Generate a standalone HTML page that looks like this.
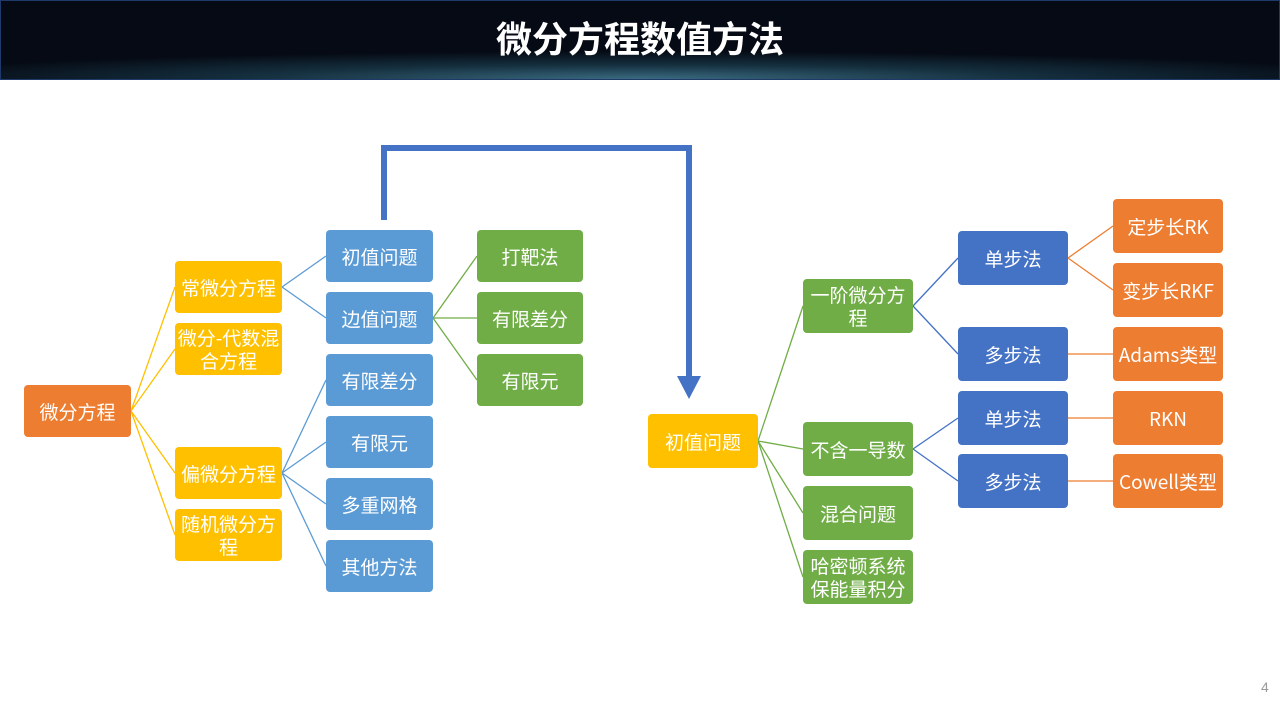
<!DOCTYPE html>
<html><head><meta charset="utf-8"><style>
body{margin:0;width:1280px;height:720px;background:#fff;position:relative;overflow:hidden;font-family:"Liberation Sans","Noto Sans CJK SC",sans-serif}
.hd{position:absolute;left:0;top:0;width:1278px;height:78px;border:1px solid #1f3a6a;background:radial-gradient(ellipse 75% 45% at 50% 100%,#3a6a80 0%,#15303f 40%,#050a14 80%);}
.hd span{position:absolute;left:0;right:0;top:10px;text-align:center;color:#fff;font-size:36px;font-weight:bold;font-family:"Noto Sans CJK SC",sans-serif}
.b{position:absolute;border-radius:4px;color:#fff;font-size:19px;display:flex;align-items:center;justify-content:center;text-align:center;line-height:23px;font-family:"Noto Sans CJK SC",sans-serif}
.o{background:#ED7D31}.y{background:#FFC000}.l{background:#5B9BD5}.g{background:#70AD47}.d{background:#4472C4}
</style></head><body>
<div class="hd"><span>微分方程数值方法</span></div>
<svg width="1280" height="720" style="position:absolute;left:0;top:0">
<g stroke="#FFC000" stroke-width="1.3" fill="none">
<path d="M131 411L175 287M131 411L175 349M131 411L175 473M131 411L175 535"/></g>
<g stroke="#5B9BD5" stroke-width="1.3" fill="none">
<path d="M282 287L326 256M282 287L326 318M282 473L326 380M282 473L326 442M282 473L326 504M282 473L326 566"/></g>
<g stroke="#70AD47" stroke-width="1.3" fill="none">
<path d="M433 318L477 256M433 318L477 318M433 318L477 380"/>
<path d="M758 441L803 306M758 441L803 449M758 441L803 513M758 441L803 577"/></g>
<g stroke="#4472C4" stroke-width="1.3" fill="none">
<path d="M913 306L958 258M913 306L958 354M913 449L958 418M913 449L958 481"/></g>
<g stroke="#ED7D31" stroke-width="1.3" fill="none">
<path d="M1068 258L1113 226M1068 258L1113 290M1068 354L1113 354M1068 418L1113 418M1068 481L1113 481"/></g>
<path d="M384 220V148H689V380" stroke="#4472C4" stroke-width="6" fill="none"/>
<path d="M677 376H701L689 399Z" fill="#4472C4"/>
</svg>
<div class="b o" style="left:24px;top:385px;width:107px;height:52px">微分方程</div>
<div class="b y" style="left:175px;top:261px;width:107px;height:52px">常微分方程</div>
<div class="b y" style="left:175px;top:323px;width:107px;height:52px">微分-代数混<br>合方程</div>
<div class="b y" style="left:175px;top:447px;width:107px;height:52px">偏微分方程</div>
<div class="b y" style="left:175px;top:509px;width:107px;height:52px">随机微分方<br>程</div>
<div class="b l" style="left:326px;top:230px;width:107px;height:52px">初值问题</div>
<div class="b l" style="left:326px;top:292px;width:107px;height:52px">边值问题</div>
<div class="b l" style="left:326px;top:354px;width:107px;height:52px">有限差分</div>
<div class="b l" style="left:326px;top:416px;width:107px;height:52px">有限元</div>
<div class="b l" style="left:326px;top:478px;width:107px;height:52px">多重网格</div>
<div class="b l" style="left:326px;top:540px;width:107px;height:52px">其他方法</div>
<div class="b g" style="left:477px;top:230px;width:106px;height:52px">打靶法</div>
<div class="b g" style="left:477px;top:292px;width:106px;height:52px">有限差分</div>
<div class="b g" style="left:477px;top:354px;width:106px;height:52px">有限元</div>
<div class="b y" style="left:648px;top:414px;width:110px;height:54px">初值问题</div>
<div class="b g" style="left:803px;top:279px;width:110px;height:54px">一阶微分方<br>程</div>
<div class="b g" style="left:803px;top:422px;width:110px;height:54px">不含一导数</div>
<div class="b g" style="left:803px;top:486px;width:110px;height:54px">混合问题</div>
<div class="b g" style="left:803px;top:550px;width:110px;height:54px">哈密顿系统<br>保能量积分</div>
<div class="b d" style="left:958px;top:231px;width:110px;height:54px">单步法</div>
<div class="b d" style="left:958px;top:327px;width:110px;height:54px">多步法</div>
<div class="b d" style="left:958px;top:391px;width:110px;height:54px">单步法</div>
<div class="b d" style="left:958px;top:454px;width:110px;height:54px">多步法</div>
<div class="b o" style="left:1113px;top:199px;width:110px;height:54px">定步长RK</div>
<div class="b o" style="left:1113px;top:263px;width:110px;height:54px">变步长RKF</div>
<div class="b o" style="left:1113px;top:327px;width:110px;height:54px">Adams类型</div>
<div class="b o" style="left:1113px;top:391px;width:110px;height:54px">RKN</div>
<div class="b o" style="left:1113px;top:454px;width:110px;height:54px">Cowell类型</div>
<div style="position:absolute;left:1261px;top:679px;color:#999;font-size:14px">4</div>
</body></html>
